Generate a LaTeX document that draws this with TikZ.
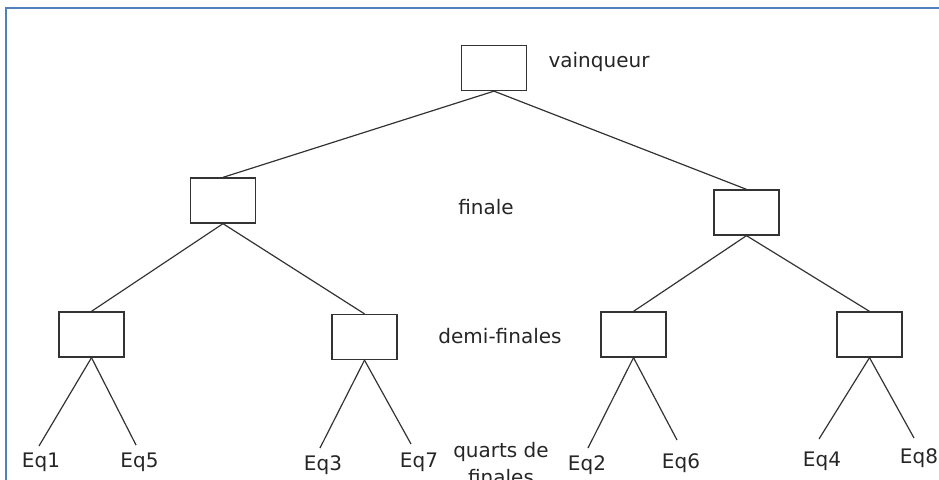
\documentclass[tikz,border=0pt]{standalone}
\usepackage{fontspec}
\setmainfont{DejaVu Sans}
\begin{document}
\begin{tikzpicture}[x=1pt,y=-1pt,
  box/.style={draw=black!80, line width=1.3pt, minimum width=65pt, minimum height=45pt, inner sep=0pt},
  link/.style={draw=black!80, line width=1.2pt},
  lbl/.style={font=\fontsize{20}{23}\selectfont, text=black!85, inner sep=0pt, anchor=base},
  frame/.style={draw={rgb,255:red,79;green,129;blue,189}, line width=2pt}]
\useasboundingbox (0,0) rectangle (939,479);
\clip (0,0) rectangle (939,479);
\draw[frame] (6,8) rectangle (960,500);
% boxes
\node[box] (V) at (494,68) {};
\node[box] (FL) at (223,200.5) {};
\node[box] (FR) at (746.5,212.5) {};
\node[box] (D1) at (91.5,334.5) {};
\node[box] (D2) at (364.5,337) {};
\node[box] (D3) at (633.5,334.5) {};
\node[box] (D4) at (869.5,334.5) {};
% leaf line ends
\coordinate (e1) at (39,446);
\coordinate (e5) at (136,445);
\coordinate (e3) at (320,448);
\coordinate (e7) at (411,444);
\coordinate (e2) at (588,448);
\coordinate (e6) at (677,440);
\coordinate (e4) at (819,439);
\coordinate (e8) at (914,438);
% connectors
\draw[link] (V.south) -- (FL.north);
\draw[link] (V.south) -- (FR.north);
\draw[link] (FL.south) -- (D1.north);
\draw[link] (FL.south) -- (D2.north);
\draw[link] (FR.south) -- (D3.north);
\draw[link] (FR.south) -- (D4.north);
\draw[link] (D1.south) -- (e1);
\draw[link] (D1.south) -- (e5);
\draw[link] (D2.south) -- (e3);
\draw[link] (D2.south) -- (e7);
\draw[link] (D3.south) -- (e2);
\draw[link] (D3.south) -- (e6);
\draw[link] (D4.south) -- (e4);
\draw[link] (D4.south) -- (e8);
% labels
\node[lbl] (lv) at (599,67) {vainqueur};
\node[lbl] (lf) at (486,214) {finale};
\node[lbl] (ld) at (500,343) {demi-finales};
\node[lbl, align=center, font=\fontsize{20}{27}\selectfont] (lq) at (501,484) {quarts de\\finales};
\node[lbl] (t1) at (41,467) {Eq1};
\node[lbl] (t5) at (139.5,467) {Eq5};
\node[lbl] (t3) at (323,470) {Eq3};
\node[lbl] (t7) at (419,467) {Eq7};
\node[lbl] (t2) at (587,470) {Eq2};
\node[lbl] (t6) at (681,468) {Eq6};
\node[lbl] (t4) at (822,466) {Eq4};
\node[lbl] (t8) at (919,463) {Eq8};
\end{tikzpicture}
\end{document}
